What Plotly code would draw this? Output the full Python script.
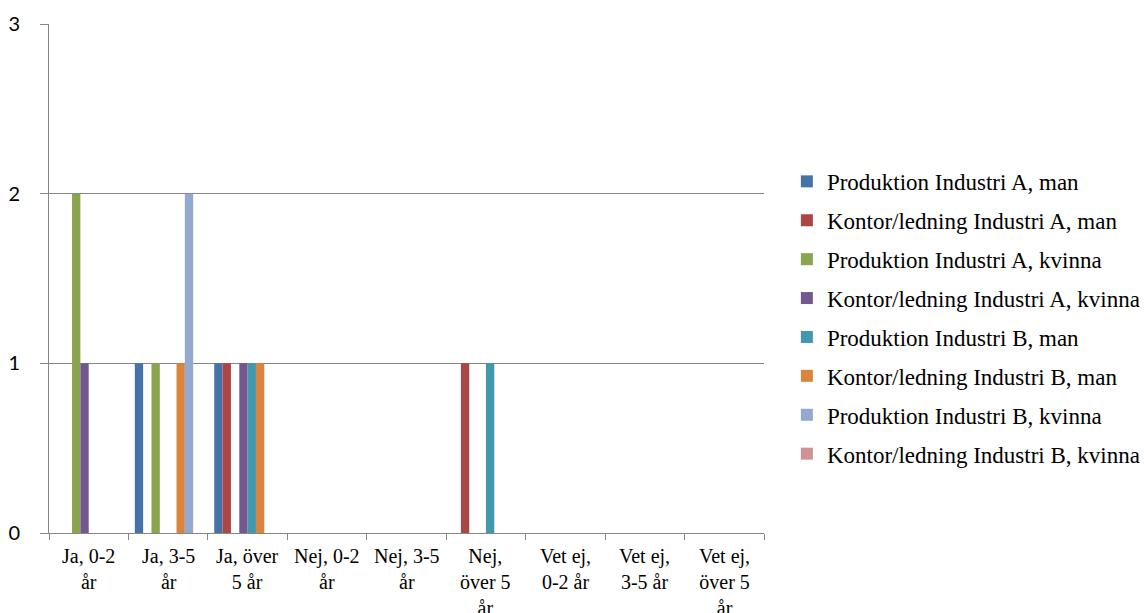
import plotly.graph_objects as go

categories = [
    "Ja, 0-2<br>år",
    "Ja, 3-5<br>år",
    "Ja, över<br>5 år",
    "Nej, 0-2<br>år",
    "Nej, 3-5<br>år",
    "Nej,<br>över 5<br>år",
    "Vet ej,<br>0-2 år",
    "Vet ej,<br>3-5 år",
    "Vet ej,<br>över 5<br>år",
]

series_names = [
    "Produktion Industri A, man",
    "Kontor/ledning Industri A, man",
    "Produktion Industri A, kvinna",
    "Kontor/ledning Industri A, kvinna",
    "Produktion Industri B, man",
    "Kontor/ledning Industri B, man",
    "Produktion Industri B, kvinna",
    "Kontor/ledning Industri B, kvinna",
]

prod_a_man = [0, 1, 1, 0, 0, 0, 0, 0, 0]
kontor_a_man = [0, 0, 1, 0, 0, 1, 0, 0, 0]
prod_a_kvinna = [2, 1, 0, 0, 0, 0, 0, 0, 0]
kontor_a_kvinna = [1, 0, 1, 0, 0, 0, 0, 0, 0]
prod_b_man = [0, 0, 1, 0, 0, 1, 0, 0, 0]
kontor_b_man = [0, 1, 1, 0, 0, 0, 0, 0, 0]
prod_b_kvinna = [0, 2, 0, 0, 0, 0, 0, 0, 0]
kontor_b_kvinna = [0, 0, 0, 0, 0, 0, 0, 0, 0]

series_values = [
    prod_a_man, kontor_a_man, prod_a_kvinna, kontor_a_kvinna,
    prod_b_man, kontor_b_man, prod_b_kvinna, kontor_b_kvinna,
]

colors = ["#4572A7", "#AA4643", "#89A54E", "#71588F",
          "#4198AF", "#DB843D", "#93A9CF", "#D19392"]

y_ticks = [0, 1, 2, 3]

serif = "Liberation Serif"

fig = go.Figure()
for i, (name, vals, col) in enumerate(zip(series_names, series_values, colors)):
    fig.add_trace(go.Bar(
        x=categories, y=vals, name=name,
        marker=dict(color=col, line=dict(width=0)),
        legendgroup=f"g{i}",
    ))

# Category labels under each group, set in the serif face
for cat in categories:
    fig.add_annotation(
        x=cat, xref="x", y=0, yref="paper",
        text=cat, showarrow=False, align="center",
        xanchor="center", yanchor="top", yshift=-10,
        font=dict(family=serif, size=20, color="black"),
    )

grid_col = "#868686"

fig.update_layout(
    width=1144, height=613,
    margin=dict(l=49, r=380, t=24, b=80, autoexpand=False),
    font=dict(family=serif, size=20, color="black"),
    paper_bgcolor="white", plot_bgcolor="white",
    barmode="group", bargap=0.16, bargroupgap=0,
    showlegend=True,
    legend=dict(
        x=1.032, xanchor="left", y=0.733, yanchor="top",
        font=dict(size=23),
        tracegroupgap=6, bgcolor="rgba(0,0,0,0)",
    ),
    xaxis=dict(
        type="category", automargin=False,
        showline=True, linecolor=grid_col, linewidth=1,
        ticks="outside", tickson="boundaries", ticklen=6, tickcolor=grid_col,
        showgrid=False, showticklabels=False,
    ),
    yaxis=dict(
        range=[0, 3], tickvals=y_ticks, automargin=False,
        showline=True, linecolor=grid_col, linewidth=1,
        showgrid=True, gridcolor=grid_col, gridwidth=1,
        ticks="outside", ticklen=8, tickcolor=grid_col,
        tickfont=dict(family="Lato", size=20, color="black"),
        zeroline=False, ticklabelstandoff=16,
    ),
)

fig.write_html("out.html")
